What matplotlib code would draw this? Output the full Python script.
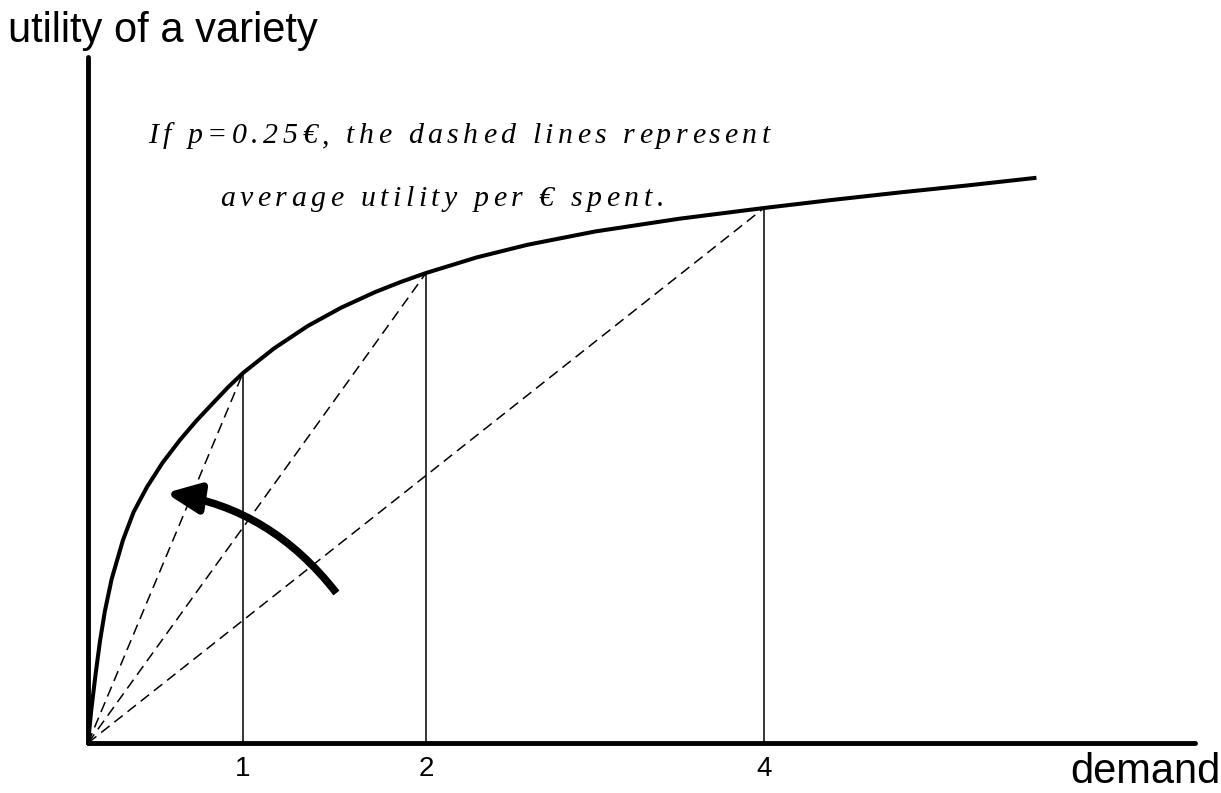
import matplotlib
matplotlib.use('Agg')
import matplotlib.pyplot as plt
from matplotlib.patches import FancyArrowPatch
from matplotlib.font_manager import FontProperties

W, H = 1221, 793

# utility of a variety as a function of demand
demand = [0, 0.02, 0.045, 0.071, 0.10, 0.14, 0.207, 0.27, 0.349, 0.44, 0.544,
          0.64, 0.74, 0.83, 0.917, 1.1, 1.3, 1.5, 1.7, 1.85, 2.0,
          2.3, 2.6, 3.0, 3.5, 4.0, 4.4, 4.8, 5.2, 5.6]
utility = [0, 0.34, 0.69, 1.02, 1.32, 1.64, 2.03, 2.31, 2.56, 2.80, 3.03,
           3.22, 3.40, 3.56, 3.70, 3.945, 4.17, 4.355, 4.51, 4.61, 4.70,
           4.856, 4.982, 5.115, 5.243, 5.35, 5.43, 5.505, 5.575, 5.65]

# marked quantities
mark_x = [0.917, 2.0, 4.0]
mark_u = [3.70, 4.70, 5.35]
mark_labels = ['1', '2', '4']

# thick curved arrow (tail -> head)
arrow_tail = (1.47, 1.50)
arrow_head = (0.46, 2.50)

line1 = 'If p=0.25€, the dashed lines represent'
line2 = 'average utility per € spent.'


def tracked_text(fig, text, x0, baseline, tracking, fp):
    # draw a string char by char with extra letter spacing (pixels)
    r = fig.canvas.get_renderer()
    wl = r.get_text_width_height_descent('l', fp, ismath=False)[0]
    for i, ch in enumerate(text):
        if ch == ' ':
            continue
        if i == 0:
            off = 0
        else:
            off = r.get_text_width_height_descent(text[:i] + 'l', fp, ismath=False)[0] - wl
        fig.text((x0 + off + i * tracking) / W, 1 - baseline / H, ch,
                 fontproperties=fp, ha='left', va='baseline')


fig = plt.figure(figsize=(W / 100, H / 100), dpi=100)
ax = fig.add_axes([88 / W, 50 / H, 1107 / W, 686 / H])
ax.set_xlim(0, 6.55)
ax.set_ylim(0, 6.86)

for s in ['top', 'right']:
    ax.spines[s].set_visible(False)
for s in ['left', 'bottom']:
    ax.spines[s].set_linewidth(3.5)
    ax.spines[s].set_capstyle('round')

ax.plot(demand, utility, color='black', lw=2.9, solid_joinstyle='round')

for x, u in zip(mark_x, mark_u):
    ax.plot([x, x], [0, u], color='black', lw=1.1)
    ax.plot([0, x], [0, u], color='black', lw=1.1, dashes=(7, 4))

ax.set_xticks(mark_x)
ax.set_xticklabels(mark_labels, family='Liberation Sans', fontsize=20)
ax.tick_params(axis='x', length=0, pad=9)
ax.set_yticks([])

arrow = FancyArrowPatch(posA=arrow_tail, posB=arrow_head,
                        connectionstyle='arc3,rad=0.2',
                        arrowstyle='-|>,head_length=1.0,head_width=0.45',
                        mutation_scale=20, lw=5.5, color='black',
                        capstyle='butt', shrinkA=0, shrinkB=0)
ax.add_patch(arrow)

fig.text(8 / W, 1 - 42 / H, 'utility of a variety', family='Liberation Sans',
         fontsize=30, ha='left', va='baseline')
fig.text(1070 / W, 1 - 783 / H, 'demand', family='Liberation Sans',
         fontsize=30, ha='left', va='baseline')

fp = FontProperties(family='Liberation Serif', style='italic', size=21.5)
fig.canvas.draw()
r = fig.canvas.get_renderer()
natural = r.get_text_width_height_descent(line1, fp, ismath=False)[0]
tracking = (622 - natural) / (len(line1) - 1)
tracked_text(fig, line1, 148, 143, tracking, fp)
tracked_text(fig, line2, 220, 206, tracking, fp)

fig.savefig('out.png', dpi=100)
